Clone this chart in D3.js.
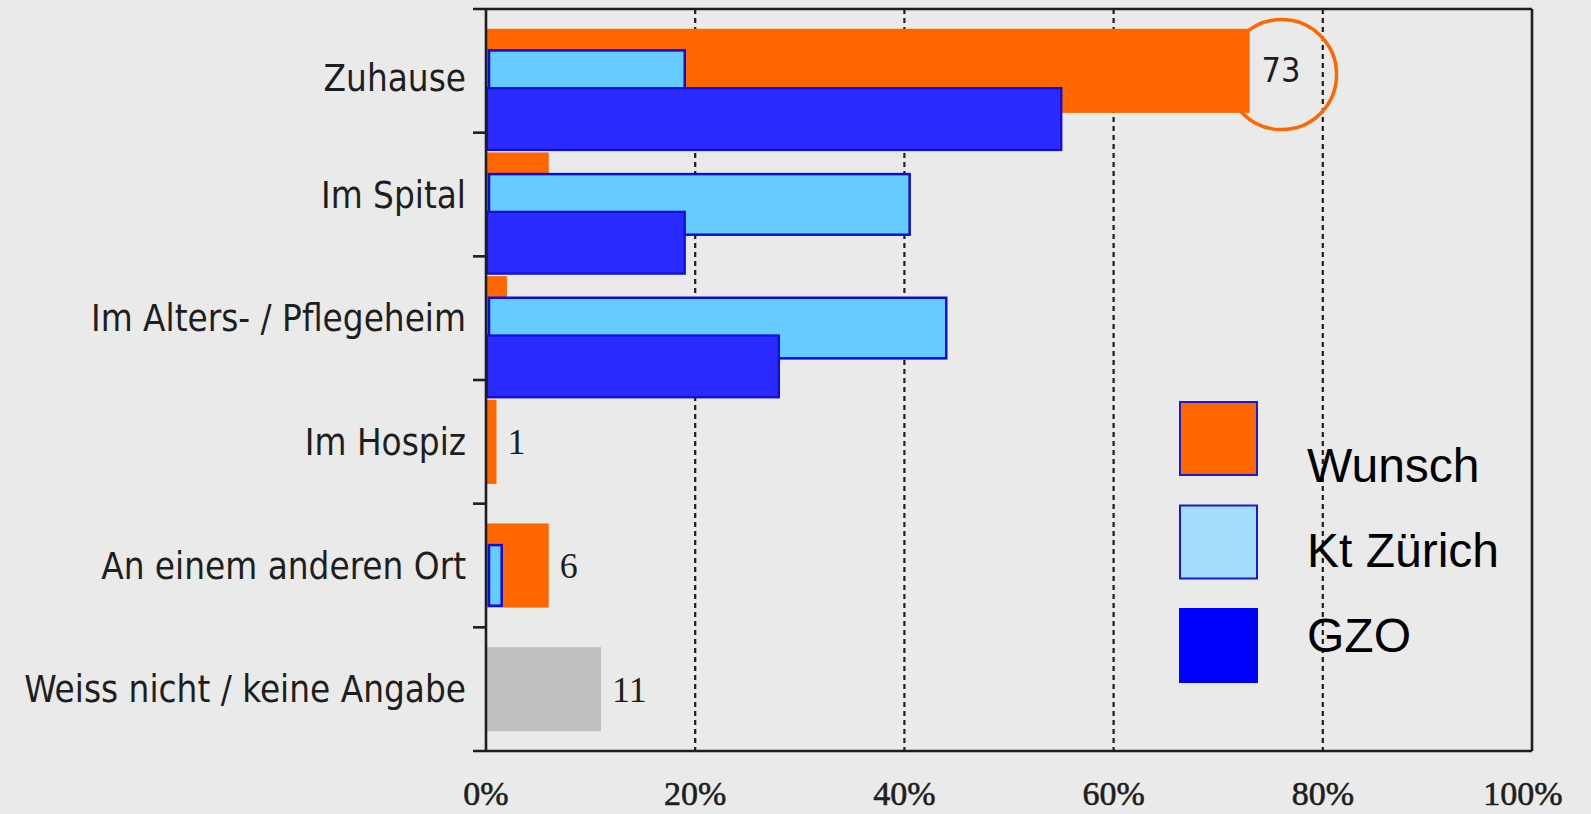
<!DOCTYPE html>
<html>
<head>
<meta charset="utf-8">
<script src="https://cdn.jsdelivr.net/npm/d3@7"></script>
<style>
  html, body { margin: 0; padding: 0; background: #eaeaea; overflow: hidden; }
</style>
</head>
<body>
<svg id="chart" width="1591" height="814"></svg>
<script>
// Sterbeort: Wunsch vs. Kt Zürich vs. GZO (in %)
const categories = ['Zuhause', 'Im Spital', 'Im Alters- / Pflegeheim', 'Im Hospiz', 'An einem anderen Ort', 'Weiss nicht / keine Angabe'];
const wunsch = [73, 6, 2, 1, 6, 11];
const ktZuerich = [19, 40.5, 44, null, 1.5, null];
const gzo = [55, 19, 28, null, null, null];
const labelledRows = ['Zuhause', 'Im Hospiz', 'An einem anderen Ort', 'Weiss nicht / keine Angabe'];
const xTicks = [0, 20, 40, 60, 80, 100];
const legendNames = ['Wunsch', 'Kt Zürich', 'GZO'];

const COL_WUNSCH = '#FF6600', COL_NA = '#C0C0C0';
const COL_KT = '#66CCFF', COL_GZO = '#2B2BFF', COL_EDGE = '#0C0CDC';
const INK = '#1e1e1e';
const SANS = 'DejaVu Sans Condensed, DejaVu Sans, Tahoma, sans-serif';

const svg = d3.select('#chart');
const pLeft = 486, pRight = 1532, pTop = 9, pBottom = 751;

const x = d3.scaleLinear().domain([0, 100]).range([pLeft, pRight]);
const y = d3.scaleBand().domain(categories).range([pTop, pBottom]).padding(0);
const bw = y.bandwidth();

// gitterlinien (gepunktet)
svg.append('g').selectAll('line')
  .data(xTicks.filter(t => t > 0 && t < 100)).join('line')
  .attr('x1', d => x(d)).attr('x2', d => x(d))
  .attr('y1', pTop).attr('y2', pBottom)
  .attr('stroke', INK).attr('stroke-width', 2.2)
  .attr('stroke-dasharray', '5,4');

// kreis um den Spitzenwert
const iTop = categories.indexOf('Zuhause');
svg.append('circle')
  .attr('cx', x(wunsch[iTop]) + 32)
  .attr('cy', y('Zuhause') + bw * 0.53)
  .attr('r', 55)
  .attr('fill', 'none').attr('stroke', COL_WUNSCH).attr('stroke-width', 3.5);

// Wunsch-Balken (hinten)
svg.append('g').selectAll('rect')
  .data(categories.map((c, i) => ({ c, v: wunsch[i], last: i === categories.length - 1 }))).join('rect')
  .attr('x', x(0))
  .attr('y', d => y(d.c) + bw * 0.16)
  .attr('width', d => x(d.v) - x(0))
  .attr('height', bw * 0.68)
  .attr('fill', d => d.last ? COL_NA : COL_WUNSCH);

// Kt Zürich
svg.append('g').selectAll('rect')
  .data(categories.map((c, i) => ({ c, v: ktZuerich[i] })).filter(d => d.v != null)).join('rect')
  .attr('x', x(0) + 3)
  .attr('y', d => y(d.c) + bw * 0.335)
  .attr('width', d => x(d.v) - x(0) - 3)
  .attr('height', bw * 0.49)
  .attr('fill', COL_KT).attr('stroke', COL_EDGE).attr('stroke-width', 2.5);

// GZO
svg.append('g').selectAll('rect')
  .data(categories.map((c, i) => ({ c, v: gzo[i] })).filter(d => d.v != null)).join('rect')
  .attr('x', x(0) + 1)
  .attr('y', d => y(d.c) + bw * 0.64)
  .attr('width', d => x(d.v) - x(0) - 1)
  .attr('height', bw * 0.5)
  .attr('fill', COL_GZO).attr('stroke', COL_EDGE).attr('stroke-width', 2.2);

// rahmen + achsen
const frame = svg.append('g').attr('stroke', INK).attr('stroke-width', 2.6);
frame.append('line').attr('x1', pLeft - 13).attr('x2', pRight).attr('y1', pTop).attr('y2', pTop);
frame.append('line').attr('x1', pLeft - 13).attr('x2', pRight).attr('y1', pBottom).attr('y2', pBottom);
frame.append('line').attr('x1', pLeft).attr('x2', pLeft).attr('y1', pTop).attr('y2', pBottom);
frame.append('line').attr('x1', pRight).attr('x2', pRight).attr('y1', pTop).attr('y2', pBottom);
frame.selectAll('line.tick').data(categories.slice(1)).join('line')
  .attr('class', 'tick')
  .attr('x1', pLeft - 13).attr('x2', pLeft)
  .attr('y1', d => y(d)).attr('y2', d => y(d));

// kategorien
svg.append('g').selectAll('text')
  .data(categories).join('text')
  .text(d => d)
  .attr('x', 466)
  .attr('y', d => y(d) + bw / 2 + (d === 'Zuhause' ? 7 : 0))
  .attr('dy', '0.36em')
  .attr('text-anchor', 'end')
  .attr('font-family', SANS)
  .style('font-size', '36.5px')
  .attr('fill', INK);

// x-achsen beschriftung
svg.append('g').selectAll('text')
  .data(xTicks).join('text')
  .text(d => d + '%')
  .attr('x', d => x(d) - (d === 100 ? 9 : 0))
  .attr('y', 805)
  .attr('text-anchor', 'middle')
  .attr('font-family', 'Liberation Serif, Times New Roman, serif')
  .style('font-size', '34px')
  .attr('stroke', INK).attr('stroke-width', 0.6)
  .attr('fill', INK);

// werte
const lab = svg.append('g');
categories.forEach((c, i) => {
  if (!labelledRows.includes(c)) return;
  const isTop = c === 'Zuhause';
  lab.append('text')
    .text(wunsch[i])
    .attr('x', x(wunsch[i]) + (isTop ? 12 : 11))
    .attr('y', y(c) + bw / 2 + (isTop ? -1 : 0))
    .attr('dy', '0.35em')
    .attr('font-family', isTop ? SANS : 'Liberation Serif, serif')
    .style('font-size', isTop ? '34px' : '36px')
    .attr('fill', INK);
});

// legende
const legCols = [COL_WUNSCH, '#A3DDFB', '#0000FF'];
const leg = svg.append('g');
legendNames.forEach((n, i) => {
  leg.append('rect')
    .attr('x', 1180).attr('y', 402 + i * 103.5)
    .attr('width', 77).attr('height', 73)
    .attr('fill', legCols[i])
    .attr('stroke', i === 2 ? '#0000FF' : '#1a1ad0').attr('stroke-width', 2);
  leg.append('text')
    .text(n)
    .attr('x', 1307).attr('y', 482 + i * 85)
    .attr('font-family', 'Liberation Sans, Arial, sans-serif')
    .style('font-size', '48px')
    .attr('fill', '#000');
});
</script>
</body>
</html>
